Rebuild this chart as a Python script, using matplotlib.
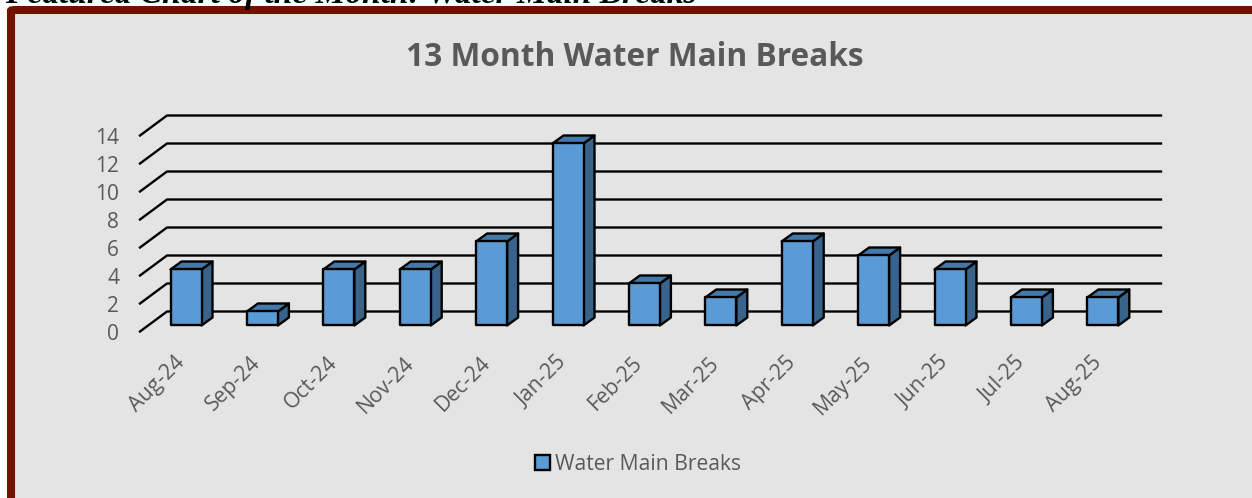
import matplotlib
matplotlib.use("Agg")
import matplotlib.pyplot as plt
from matplotlib.patches import Polygon, FancyBboxPatch, Patch
from matplotlib.transforms import ScaledTranslation

# Data
months = ['Aug-24', 'Sep-24', 'Oct-24', 'Nov-24', 'Dec-24', 'Jan-25', 'Feb-25',
          'Mar-25', 'Apr-25', 'May-25', 'Jun-25', 'Jul-25', 'Aug-25']
breaks = [4, 1, 4, 4, 6, 13, 3, 2, 6, 5, 4, 2, 2]
y_ticks = [0, 2, 4, 6, 8, 10, 12, 14]

W, H = 1252, 498
font = 'Open Sans'
grey = '#595959'

fig = plt.figure(figsize=(W/100, H/100), dpi=100, facecolor='white')

# Frame, runs off the right and bottom of the picture
frame = FancyBboxPatch((11/W, -40/H), 1300/W, (H+40-10)/H, transform=fig.transFigure,
                       boxstyle='round,pad=0,rounding_size=0.004', mutation_aspect=H/W,
                       fc='#E4E4E4', ec='#6F1200', lw=5.8, clip_on=False, zorder=-1)
fig.patches.append(frame)

fig.text(5/W, 1 - 3/H, 'Featured Chart of the Month: Water Main Breaks',
         family='Liberation Serif', weight='bold', style='italic', fontsize=24.1,
         color='black', va='baseline', ha='left')
fig.text(635/W, 1 - 58/H, '13 Month Water Main Breaks', family=font, weight='bold',
         fontsize=22.8, color=grey, ha='center', va='center')

# Axes: 76.4 px per month, 14 px per break
ax = fig.add_axes([140/W, 1 - 331.5/H, 1021/W, 216/H])
ax.patch.set_alpha(0)
ax.set_xlim((140-186)/76.4, (1161-186)/76.4)
ax.set_ylim(0, 216/14)
for s in ax.spines.values():
    s.set_visible(False)

# 3d offsets in data units
wall_dx, wall_dy = 27/76.4, 20/14
base_dy = 6/14
bar_w = 31/76.4
bar_dx, bar_dy = 11/76.4, 8/14
xl, xr = ax.get_xlim()

for t in y_ticks:
    ax.plot([xl, xl+wall_dx, xr], [t, t+wall_dy, t+wall_dy], color='black', lw=1.7,
            solid_joinstyle='round', zorder=1, clip_on=False)

for i, v in enumerate(breaks):
    x0, x1 = i - bar_w/2, i + bar_w/2
    y0, y1 = base_dy, base_dy + v
    front = [(x0, y0), (x1, y0), (x1, y1), (x0, y1)]
    side = [(x1, y0), (x1+bar_dx, y0+bar_dy), (x1+bar_dx, y1+bar_dy), (x1, y1)]
    top = [(x0, y1), (x1, y1), (x1+bar_dx, y1+bar_dy), (x0+bar_dx, y1+bar_dy)]
    for pts, c in ((side, '#38648C'), (top, '#4478A8'), (front, '#5B9BD5')):
        ax.add_patch(Polygon(pts, closed=True, fc=c, ec='black', lw=1.7,
                             joinstyle='round', zorder=2, clip_on=False))

ax.set_yticks(y_ticks)
ax.set_yticklabels([str(t) for t in y_ticks], family=font, fontsize=15, color=grey)
ax.tick_params(axis='y', length=0, pad=15)
ax.set_xticks(range(len(months)))
ax.set_xticklabels(months, family=font, fontsize=15.3, color=grey, rotation=45,
                   ha='right', rotation_mode='anchor')
ax.tick_params(axis='x', length=0, pad=15)
shift = ScaledTranslation(-12/100, 0, fig.dpi_scale_trans)
for lab in ax.get_xticklabels():
    lab.set_transform(lab.get_transform() + shift)

handle = Patch(fc='#5B9BD5', ec='black', lw=1.7)
leg = fig.legend(handles=[handle], labels=['Water Main Breaks'], loc='center',
                 bbox_to_anchor=(638/W, 1 - 464/H), frameon=False, handlelength=0.7,
                 handleheight=0.7, handletextpad=0.25,
                 prop={'family': font, 'size': 15.2})
leg.get_texts()[0].set_color(grey)

fig.savefig('out.png', dpi=100)
